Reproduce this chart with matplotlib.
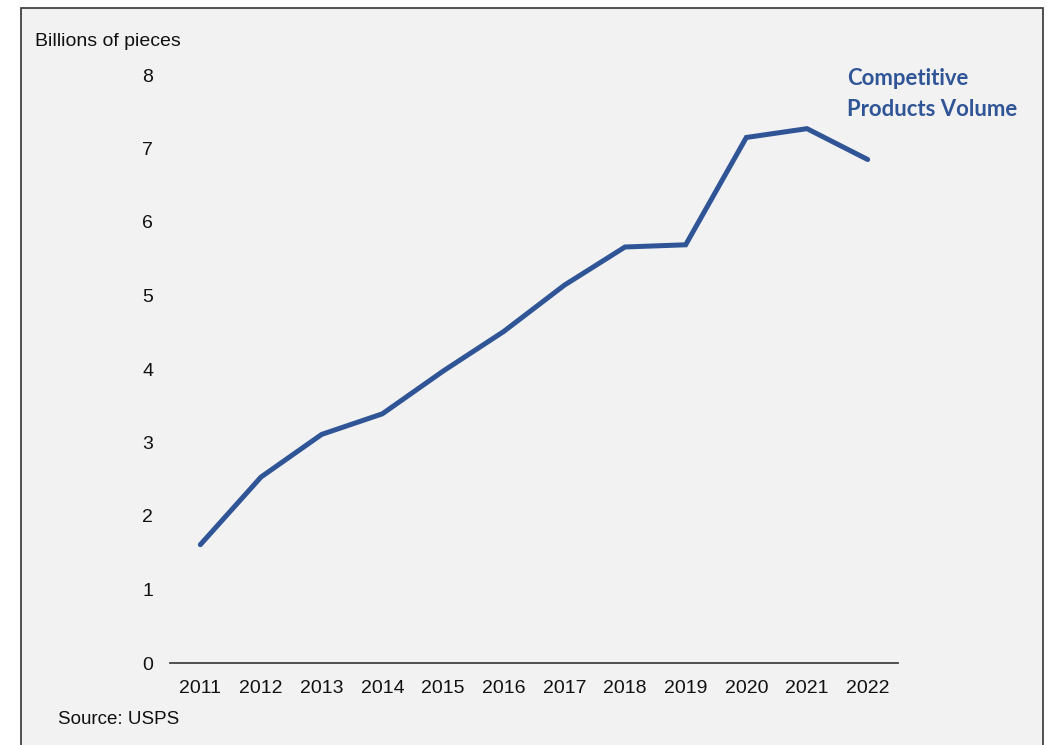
import matplotlib.pyplot as plt
from matplotlib.patches import Rectangle

# USPS competitive products volume, billions of pieces
years = [2011, 2012, 2013, 2014, 2015, 2016, 2017, 2018, 2019, 2020, 2021, 2022]
volume = [1.61, 2.53, 3.11, 3.39, 3.97, 4.51, 5.14, 5.66, 5.69, 7.15, 7.27, 6.85]
y_ticks = [0, 1, 2, 3, 4, 5, 6, 7, 8]

line_color = "#2f5597"
panel_color = "#f2f2f2"
text_color = "#111111"

plt.rcParams["font.family"] = ["Liberation Sans", "DejaVu Sans"]

fig = plt.figure(figsize=(10.53, 7.45), dpi=100)
fig.patch.set_facecolor("white")

# grey panel with a thin frame
panel = Rectangle((21 / 1053, -0.02), (1043 - 21) / 1053, 1.02 - 8 / 745,
                  transform=fig.transFigure, facecolor=panel_color,
                  edgecolor="#333333", linewidth=1.2, zorder=-1)
fig.patches.append(panel)

ax = fig.add_axes([170 / 1053, 1 - 663 / 745, (898 - 170) / 1053, (663 - 75) / 745])
ax.set_zorder(2)
ax.set_facecolor("none")

ax.plot(years, volume, color=line_color, linewidth=3.6,
        solid_capstyle="round", solid_joinstyle="miter", zorder=3)

ax.set_xlim(2010.5, 2022.5)
ax.set_ylim(0, 8)
ax.set_xticks(years)
ax.set_xticklabels([str(y) for y in years])
ax.set_yticks(y_ticks)

for side in ["top", "right", "left"]:
    ax.spines[side].set_visible(False)
ax.spines["bottom"].set_color("#444444")
ax.spines["bottom"].set_linewidth(1.3)
ax.tick_params(axis="both", length=0, labelsize=14, colors=text_color)
ax.tick_params(axis="y", pad=12)
ax.tick_params(axis="x", pad=12)

fig.text(35 / 1053, 1 - 41 / 745, "Billions of pieces", fontsize=14,
         color=text_color, ha="left", va="center")
fig.text(58 / 1053, 1 - 720 / 745, "Source: USPS", fontsize=13.5,
         color=text_color, ha="left", va="center")

fig.text(847 / 1053, 1 - 94 / 745, "Competitive\nProducts Volume",
         fontsize=15.9, fontweight="bold", color=line_color,
         family=["Lato", "DejaVu Sans"], ha="left", va="center",
         linespacing=1.55)

fig.savefig("out.png", dpi=100, facecolor=fig.get_facecolor())
